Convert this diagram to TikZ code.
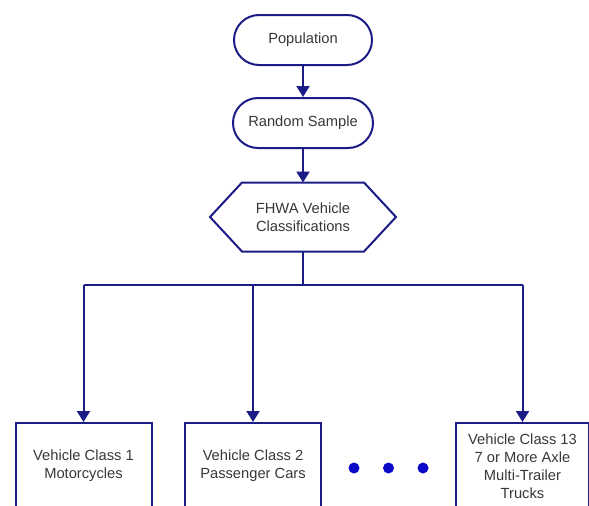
\documentclass[tikz,border=0pt]{standalone}
\usepackage{fontspec}
\setmainfont{Liberation Sans}
\usetikzlibrary{arrows.meta,calc}
\definecolor{navy}{RGB}{28,28,135}
\definecolor{dotblue}{RGB}{10,10,200}
\definecolor{txt}{RGB}{55,55,55}
\tikzset{
  base/.style={draw=navy,line width=2pt,text=txt,align=center,
    font=\fontsize{14.7pt}{18pt}\selectfont},
  term/.style={base,rounded corners=25pt,minimum width=138pt,minimum height=50pt,inner sep=0pt},
  classbox/.style={base,minimum width=136pt,minimum height=86pt,inner sep=0pt},
  link/.style={draw=navy,line width=2pt},
  arr/.style={link,-{Triangle[length=11pt,width=13pt]}},
  dotmark/.style={circle,fill=dotblue,inner sep=0pt,minimum size=11pt}
}
\begin{document}
\begin{tikzpicture}[x=1pt,y=-1pt]
\useasboundingbox (0,0) rectangle (589,506);
\clip (0,0) rectangle (589,506);
\node[term] (pop) at (303,40) {Population};
\node[term,minimum width=140pt] (rs) at (303,123) {Random Sample};
\node[base,draw=none,minimum width=184pt,minimum height=67pt,inner sep=0pt] (hex) at (303,217) {FHWA Vehicle\\Classifications};
\draw[link,line join=miter] (hex.west) -- ($(hex.north west)+(32,0)$) -- ($(hex.north east)+(-32,0)$)
  -- (hex.east) -- ($(hex.south east)+(-32,0)$) -- ($(hex.south west)+(32,0)$) -- cycle;
\node[classbox] (c1) at (83.5,466) {Vehicle Class 1\\Motorcycles};
\node[classbox] (c2) at (253,466) {Vehicle Class 2\\Passenger Cars};
\node[classbox,minimum width=133pt] (c13) at (522.5,466) {Vehicle Class 13\\7 or More Axle\\Multi-Trailer\\Trucks};
\node[dotmark] (d1) at (354,468) {};
\node[dotmark] (d2) at (388.5,468) {};
\node[dotmark] (d3) at (423,468) {};
\coordinate (split) at (303,285);
\draw[arr] (pop) -- (rs);
\draw[arr] (rs) -- (hex.north);
\draw[link] (hex.south) -- (split);
\draw[link] (c1.north |- split) -- (c13.north |- split);
\draw[arr] (c1.north |- split) -- (c1.north);
\draw[arr] (c2.north |- split) -- (c2.north);
\draw[arr] (c13.north |- split) -- (c13.north);
\end{tikzpicture}
\end{document}
